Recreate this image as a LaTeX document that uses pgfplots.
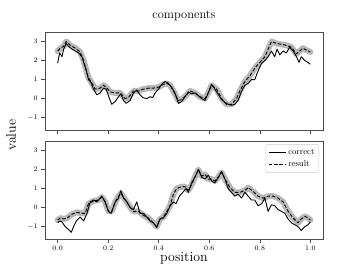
\documentclass[border=0pt]{standalone}
\usepackage{pgfplots}
\pgfplotsset{compat=1.18}
\usepackage{pgfplotstable}

\definecolor{band}{gray}{0.72}
\definecolor{spine}{gray}{0.3}

\pgfplotstableread{
x y
0.000 1.86
0.008 2.40
0.017 2.20
0.024 2.60
0.034 2.90
0.043 2.75
0.057 2.60
0.070 2.50
0.083 2.40
0.096 2.20
0.103 1.90
0.113 1.50
0.122 1.00
0.132 0.85
0.142 0.50
0.155 0.20
0.168 0.30
0.182 0.55
0.192 0.50
0.201 0.15
0.214 -0.30
0.228 -0.15
0.241 0.10
0.250 0.25
0.261 -0.10
0.271 -0.25
0.287 -0.10
0.300 0.30
0.313 0.45
0.326 0.20
0.337 0.05
0.353 0.00
0.366 0.10
0.376 0.05
0.386 0.30
0.399 0.50
0.412 0.75
0.425 0.90
0.438 0.80
0.451 0.60
0.464 0.30
0.478 -0.25
0.491 -0.15
0.504 0.10
0.517 0.35
0.530 0.25
0.543 0.30
0.557 0.15
0.570 0.00
0.583 -0.10
0.596 0.30
0.609 0.75
0.622 0.50
0.636 0.20
0.649 -0.05
0.662 -0.20
0.675 -0.30
0.688 -0.35
0.701 -0.30
0.714 -0.10
0.728 0.40
0.741 0.70
0.754 0.80
0.767 1.00
0.780 1.00
0.793 1.45
0.807 1.85
0.820 2.00
0.833 2.20
0.846 2.50
0.859 2.20
0.868 2.60
0.879 2.30
0.892 2.50
0.905 2.40
0.918 2.70
0.932 2.50
0.945 2.20
0.955 1.90
0.964 2.20
0.978 2.00
0.991 1.90
1.000 1.80
}\topcorrect

\pgfplotstableread{
x y
0.000 2.50
0.011 2.65
0.024 2.75
0.034 3.00
0.050 2.80
0.070 2.65
0.089 2.45
0.103 2.00
0.113 1.50
0.122 1.10
0.136 0.80
0.149 0.50
0.168 0.55
0.182 0.70
0.192 0.60
0.208 0.35
0.228 0.30
0.247 0.30
0.267 0.00
0.280 0.05
0.300 0.40
0.320 0.40
0.339 0.50
0.359 0.55
0.379 0.55
0.399 0.60
0.418 0.75
0.432 0.80
0.445 0.70
0.458 0.40
0.478 -0.10
0.491 -0.05
0.511 0.20
0.524 0.40
0.543 0.30
0.563 0.10
0.583 0.00
0.596 0.30
0.609 0.70
0.629 0.50
0.649 0.00
0.668 -0.30
0.688 -0.30
0.708 0.00
0.721 0.40
0.741 0.90
0.761 1.20
0.780 1.60
0.800 1.90
0.820 2.20
0.833 2.60
0.846 3.00
0.866 2.90
0.886 2.85
0.905 2.80
0.925 2.70
0.945 2.35
0.958 2.50
0.971 2.65
0.984 2.55
1.000 2.45
}\topresult

\pgfplotstableread{
x y
0.000 -0.80
0.008 -0.70
0.017 -0.75
0.030 -1.00
0.043 -1.15
0.054 -1.30
0.063 -1.00
0.074 -0.70
0.089 -0.50
0.103 -0.70
0.116 -0.30
0.129 0.30
0.142 0.40
0.155 0.30
0.175 0.60
0.188 0.30
0.201 -0.20
0.212 -0.30
0.228 0.30
0.241 0.50
0.250 0.90
0.261 0.50
0.274 0.30
0.287 0.00
0.300 -0.10
0.313 0.30
0.326 -0.30
0.339 -0.30
0.353 -0.50
0.366 -0.70
0.379 -0.80
0.392 -1.05
0.405 -0.60
0.418 -0.55
0.432 -0.30
0.445 0.10
0.458 0.30
0.468 0.20
0.482 0.60
0.495 0.80
0.508 1.00
0.517 0.80
0.530 1.30
0.543 1.60
0.557 2.00
0.570 1.60
0.583 1.50
0.596 1.70
0.609 1.40
0.622 1.30
0.636 1.60
0.649 1.90
0.662 1.50
0.675 1.00
0.688 0.80
0.701 0.60
0.714 0.70
0.728 0.50
0.741 0.80
0.754 0.60
0.767 0.40
0.780 0.40
0.793 0.10
0.807 0.20
0.820 0.50
0.833 -0.20
0.846 0.15
0.859 0.10
0.872 -0.10
0.886 -0.20
0.899 -0.30
0.912 -0.60
0.925 -0.80
0.938 -0.90
0.951 -1.00
0.964 -1.20
0.978 -1.00
0.991 -0.90
1.000 -0.75
}\botcorrect

\pgfplotstableread{
x y
0.000 -0.65
0.011 -0.55
0.024 -0.60
0.037 -0.55
0.057 -0.35
0.076 -0.25
0.096 -0.30
0.109 -0.30
0.122 0.20
0.142 0.35
0.162 0.40
0.175 0.55
0.188 0.30
0.201 -0.20
0.214 -0.20
0.228 0.30
0.241 0.60
0.250 0.75
0.263 0.50
0.280 0.15
0.300 -0.20
0.320 -0.20
0.339 -0.40
0.359 -0.55
0.379 -0.80
0.392 -1.00
0.405 -0.60
0.418 -0.50
0.432 -0.20
0.445 0.10
0.458 0.70
0.471 1.00
0.491 1.10
0.504 1.10
0.517 0.90
0.530 1.20
0.543 1.60
0.557 2.00
0.570 1.65
0.583 1.75
0.596 1.50
0.609 1.50
0.622 1.40
0.636 1.60
0.649 1.85
0.662 1.50
0.682 1.05
0.701 0.80
0.721 0.80
0.741 0.90
0.754 1.05
0.774 0.85
0.793 0.60
0.813 0.50
0.833 0.60
0.853 0.60
0.872 0.50
0.892 0.30
0.912 -0.20
0.932 -0.55
0.951 -0.80
0.964 -0.60
0.978 -0.45
0.991 -0.55
1.000 -0.65
}\botresult

\pgfplotsset{
  panel/.style={
    scale only axis, width=278bp, height=98bp,
    xmin=-0.05, xmax=1.05, ymin=-1.65, ymax=3.5,
    xtick={0,0.2,0.4,0.6,0.8,1.0},
    ytick={-1,0,1,2,3},
    axis line style={spine, line width=0.6pt},
    tick style={spine, line width=0.5pt},
    tick align=outside, major tick length=3.5bp,
    xtick pos=bottom, ytick pos=left,
    tick label style={font=\fontsize{7.5}{9}\selectfont},
    x tick label style={/pgf/number format/.cd, fixed, fixed zerofill, precision=1},
    yticklabel style={xshift=-0.5bp},
    clip=true,
  },
  bandline/.style={band, line width=6bp, line join=round, line cap=round},
  corr/.style={black, line width=0.9pt, line join=round},
  res/.style={black, line width=0.9pt, dash pattern=on 3.5bp off 1.8bp, line join=round},
}

\begin{document}
\begin{tikzpicture}
\begin{axis}[panel, at={(0,0)}, anchor=south west, xticklabels={},
  title={components}, title style={font=\fontsize{12.5}{14}\selectfont, yshift=2bp}]
  \addplot[bandline] table[x=x,y=y] {\topresult};
  \addplot[corr] table[x=x,y=y] {\topcorrect};
  \addplot[res] table[x=x,y=y] {\topresult};
\end{axis}
\begin{axis}[panel, at={(0,-109bp)}, anchor=south west,
  legend style={at={(0.986,0.965)}, anchor=north east, draw=black!20, rounded corners=1.5pt,
    font=\fontsize{8.5}{10}\selectfont, row sep=1pt, inner sep=2.5pt},
  legend cell align=left]
  \addplot[bandline, forget plot] table[x=x,y=y] {\botresult};
  \addplot[corr] table[x=x,y=y] {\botcorrect};
  \addlegendentry{correct}
  \addplot[res] table[x=x,y=y] {\botresult};
  \addlegendentry{result}
\end{axis}
\node[rotate=90, font=\fontsize{14}{16}\selectfont] at (-34bp,-5bp) {value};
\node[font=\fontsize{14}{16}\selectfont] at (139bp,-128bp) {position};
\pgfresetboundingbox
\useasboundingbox (-45bp,-139bp) rectangle (314bp,130bp);
\end{tikzpicture}
\end{document}
